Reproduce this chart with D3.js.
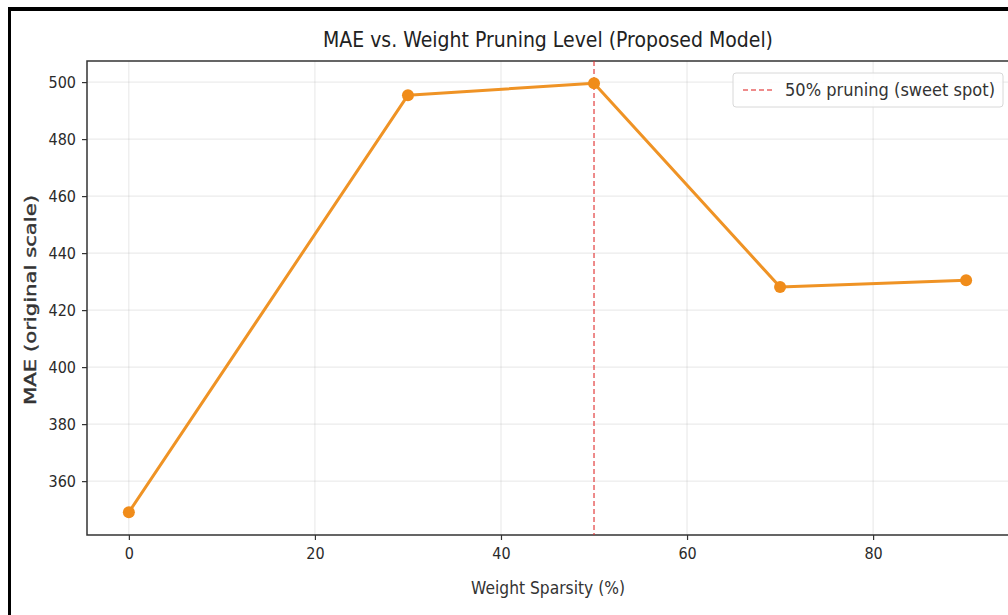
<!DOCTYPE html>
<html>
<head>
<meta charset="utf-8">
<script src="https://cdn.jsdelivr.net/npm/d3@7"></script>
<style>
  body { margin: 0; background: #fff; }
  svg { display: block; font-family: "DejaVu Sans", sans-serif; }
</style>
</head>
<body>
<div id="chart"></div>
<script>
// data
const sparsity = [0, 30, 50, 70, 90];
const mae = [349.1, 495.4, 499.6, 428.1, 430.5];
const xTicks = [0, 20, 40, 60, 80];
const yTicks = [360, 380, 400, 420, 440, 460, 480, 500];
const sweetSpot = 50;
const legendLabel = '50% pruning (sweet spot)';

const width = 1008, height = 615;
const plot = { left: 87, top: 61, right: 1008, bottom: 535 };

const svg = d3.select('#chart').append('svg')
    .attr('width', width)
    .attr('height', height);

svg.append('rect').attr('width', width).attr('height', height).attr('fill', '#fff');

// screenshot frame
svg.append('rect').attr('x', 8).attr('y', 7).attr('width', width - 8).attr('height', 4).attr('fill', '#000');
svg.append('rect').attr('x', 8).attr('y', 7).attr('width', 3).attr('height', height - 7).attr('fill', '#000');

const x = d3.scaleLinear().domain([-4.5, 94.5]).range([plot.left, plot.right]);
const y = d3.scaleLinear().domain([341.1, 507.4]).range([plot.bottom, plot.top]);

// grid
const grid = svg.append('g').attr('class', 'grid');
grid.selectAll('.gx').data(xTicks.concat([100])).enter().append('line')
    .attr('x1', d => x(d)).attr('x2', d => x(d))
    .attr('y1', plot.top).attr('y2', plot.bottom)
    .attr('stroke', '#b0b0b0').attr('stroke-opacity', 0.3).attr('stroke-width', 1);
grid.selectAll('.gy').data(yTicks).enter().append('line')
    .attr('x1', plot.left).attr('x2', plot.right)
    .attr('y1', d => y(d)).attr('y2', d => y(d))
    .attr('stroke', '#b0b0b0').attr('stroke-opacity', 0.3).attr('stroke-width', 1);

// axes
const xAxis = d3.axisBottom(x).tickValues(xTicks).tickSize(5).tickPadding(8);
const yAxis = d3.axisLeft(y).tickValues(yTicks).tickSize(5).tickPadding(6);

const gx = svg.append('g').attr('transform', `translate(0,${plot.bottom})`).call(xAxis);
const gy = svg.append('g').attr('transform', `translate(${plot.left},0)`).call(yAxis);
[gx, gy].forEach(g => {
    g.select('.domain').remove();
    g.selectAll('.tick line').attr('stroke', '#333').attr('stroke-width', 1.2);
    g.selectAll('.tick text').attr('fill', '#2a2a2a').style('font-size', '16px')
        .style('font-family', '"DejaVu Sans Condensed", "DejaVu Sans", sans-serif');
});

// frame of the axes
svg.append('path')
    .attr('d', `M${plot.right},${plot.top}H${plot.left}V${plot.bottom}H${plot.right}`)
    .attr('fill', 'none').attr('stroke', '#333').attr('stroke-width', 1.5);

// sweet spot line
svg.append('line')
    .attr('x1', x(sweetSpot)).attr('x2', x(sweetSpot))
    .attr('y1', plot.top).attr('y2', plot.bottom)
    .attr('stroke', '#e03030').attr('stroke-opacity', 0.75)
    .attr('stroke-width', 1.5).attr('stroke-dasharray', '5,3');

// series
const pts = sparsity.map((s, i) => ({ s, v: mae[i] }));
const line = d3.line().x(d => x(d.s)).y(d => y(d.v));
svg.append('path').datum(pts)
    .attr('d', line)
    .attr('fill', 'none').attr('stroke', '#ef9325').attr('stroke-width', 3)
    .attr('stroke-linejoin', 'round');
svg.selectAll('.pt').data(pts).enter().append('circle')
    .attr('cx', d => x(d.s)).attr('cy', d => y(d.v)).attr('r', 6)
    .attr('fill', '#f08c1a');

// title and labels
svg.append('text').attr('x', 548).attr('y', 47).attr('text-anchor', 'middle')
    .attr('textLength', 450).attr('lengthAdjust', 'spacingAndGlyphs')
    .style('font-size', '22px').attr('fill', '#222')
    .text('MAE vs. Weight Pruning Level (Proposed Model)');

svg.append('text').attr('x', 548).attr('y', 594).attr('text-anchor', 'middle')
    .attr('textLength', 154).attr('lengthAdjust', 'spacingAndGlyphs')
    .style('font-size', '17px').attr('fill', '#333')
    .text('Weight Sparsity (%)');

svg.append('text').attr('transform', 'translate(36,300) rotate(-90)')
    .attr('text-anchor', 'middle')
    .attr('textLength', 210).attr('lengthAdjust', 'spacingAndGlyphs')
    .style('font-size', '16px').attr('fill', '#333')
    .attr('stroke', '#333').attr('stroke-width', 0.4)
    .text('MAE (original scale)');

// legend
const lg = svg.append('g').attr('transform', 'translate(733,73)');
lg.append('rect').attr('width', 270).attr('height', 34).attr('rx', 3)
    .attr('fill', '#fff').attr('fill-opacity', 0.85)
    .attr('stroke', '#d8d8d8').attr('stroke-width', 1);
lg.append('line').attr('x1', 10).attr('x2', 42).attr('y1', 17).attr('y2', 17)
    .attr('stroke', '#e03030').attr('stroke-opacity', 0.75)
    .attr('stroke-width', 1.5).attr('stroke-dasharray', '5,3');
lg.append('text').attr('x', 52).attr('y', 23)
    .attr('textLength', 210).attr('lengthAdjust', 'spacingAndGlyphs')
    .style('font-size', '17px').attr('fill', '#333')
    .text(legendLabel);
</script>
</body>
</html>
